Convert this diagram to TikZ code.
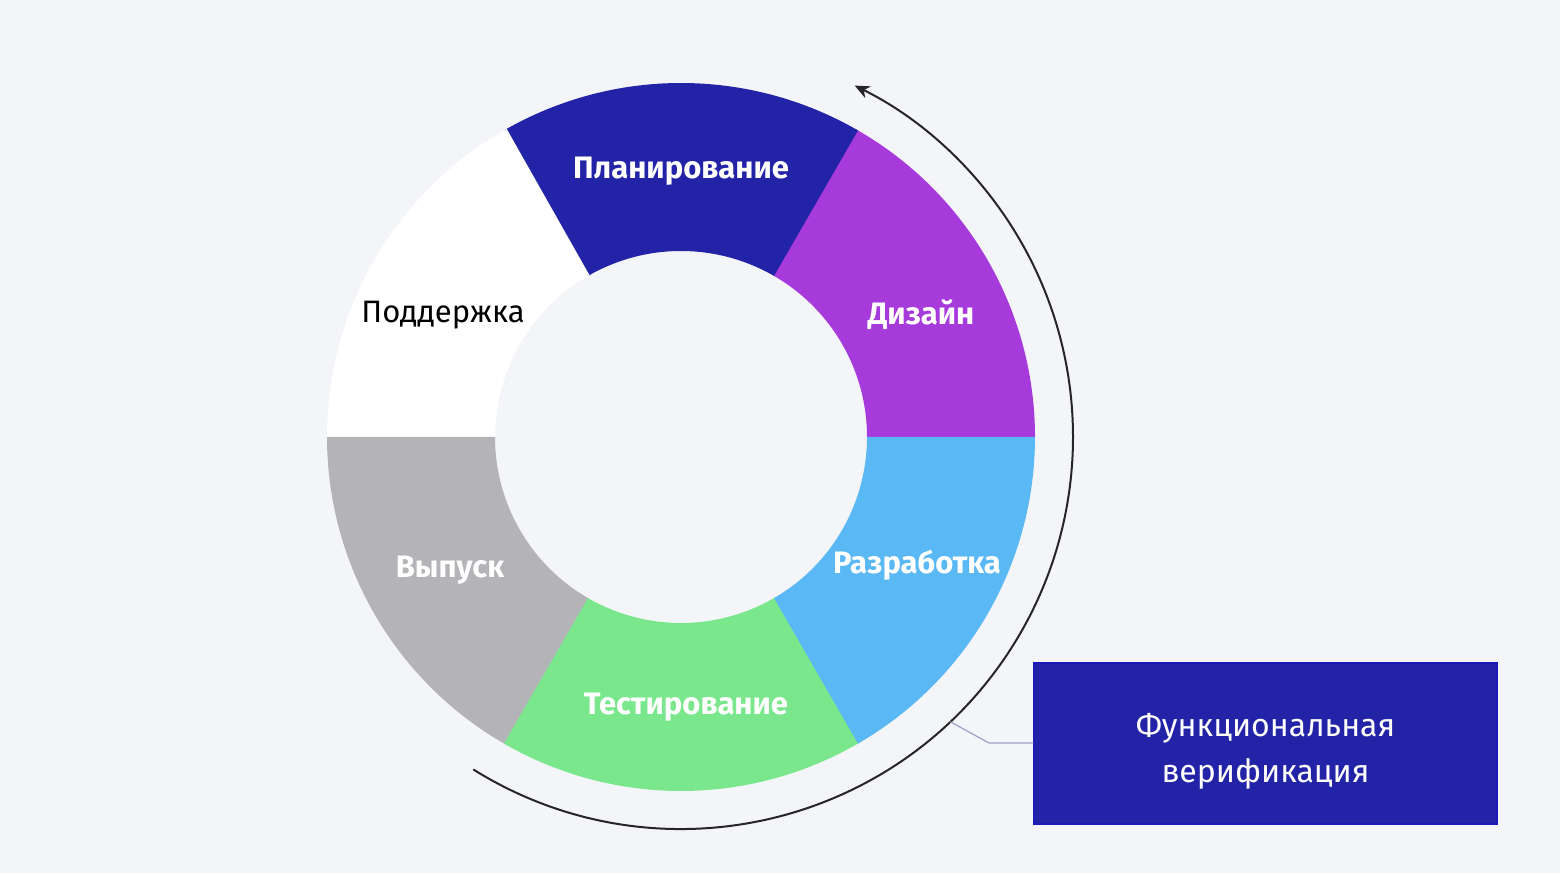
\documentclass[tikz,border=0pt]{standalone}
\usepackage{fontspec}
\setmainfont{Fira Sans}
\usetikzlibrary{arrows.meta}
\definecolor{bg}{HTML}{F4F5F9}
\definecolor{plan}{HTML}{2323A8}
\definecolor{design}{HTML}{A63ADB}
\definecolor{dev}{HTML}{5AB9F5}
\definecolor{test}{HTML}{7AE78C}
\definecolor{rel}{HTML}{B3B3B8}
\definecolor{boxborder}{HTML}{1A1AB8}
\definecolor{conn}{HTML}{A09EC8}
\begin{document}
\begin{tikzpicture}[x=1pt,y=1pt,
  seglabel/.style={font=\fontsize{31}{36}\selectfont\bfseries, text=white, inner sep=0pt},
  boxtext/.style={font=\fontsize{32}{46}\selectfont, text=white, align=center},
  arcline/.style={line width=2pt, draw=black!85},
]
\fill[bg] (0,0) rectangle (1560,873);
\useasboundingbox (0,0) rectangle (1560,873);
\begin{scope}[shift={(681,436)}]
  \newcommand{\sector}[3]{%
    \fill[#3] (#1:186) arc[start angle=#1, end angle=#2, radius=186]
      -- (#2:354) arc[start angle=#2, end angle=#1, radius=354] -- cycle;}
  \sector{0}{60.5}{design}
  \sector{60}{120}{plan}
  \sector{119.5}{180.5}{white}
  \sector{180}{240.5}{rel}
  \sector{240}{300.5}{test}
  \sector{300}{360}{dev}
  \coordinate (arcstart) at (-122:392);
  \draw[arcline, -{Stealth[length=15pt,width=13pt]}] (arcstart) arc[start angle=-122, end angle=63.7, radius=392];
  \coordinate (tap) at (-46.6:392);
\end{scope}
\node[seglabel] (plan) at (681,702) {Планирование};
\node[seglabel] (design) at (921,558) {Дизайн};
\node[seglabel, text=black, font=\fontsize{31}{36}\selectfont] (support) at (443,558) {Поддержка};
\node[seglabel] (dev) at (917,308) {Разработка};
\node[seglabel] (release) at (450,303) {Выпуск};
\node[seglabel] (test) at (686,166) {Тестирование};
\node[fill=plan, draw=boxborder, line width=1.5pt, minimum width=463pt, minimum height=161pt, inner sep=0pt] (fv) at (1265.5,129.5) {};
\node[boxtext] (fvtext) at ([yshift=-8pt]fv.center) {Функциональная\\верификация};
\coordinate (bend) at (989,130);
\draw[conn, line width=1.2pt] (tap) -- (bend) -- (bend -| fv.west);
\end{tikzpicture}
\end{document}
